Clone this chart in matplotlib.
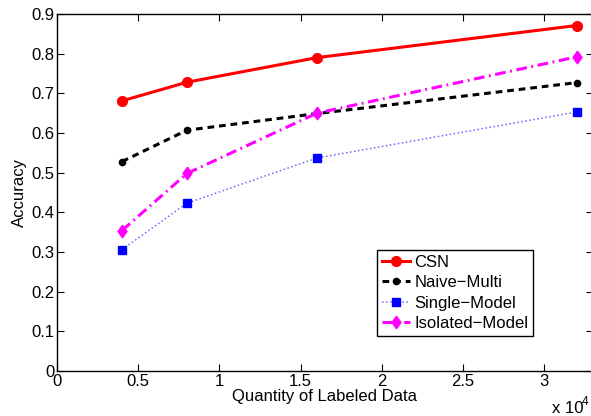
import matplotlib
matplotlib.use("Agg")
import matplotlib.pyplot as plt
from matplotlib.ticker import FuncFormatter

plt.rcParams['font.family'] = ['Liberation Sans', 'DejaVu Sans']
FS = 12

# labeled data sizes and accuracy per method
labeled = [4000, 8000, 16000, 32000]
csn = [0.681, 0.728, 0.790, 0.871]
naive_multi = [0.528, 0.607, 0.649, 0.727]
single_model = [0.306, 0.423, 0.537, 0.653]
isolated_model = [0.354, 0.498, 0.650, 0.792]

x_ticks = [0, 5000, 10000, 15000, 20000, 25000, 30000]
y_ticks = [0, 0.1, 0.2, 0.3, 0.4, 0.5, 0.6, 0.7, 0.8, 0.9]

# diamond a bit narrower than it is tall
diamond = [(0, 1), (0.72, 0), (0, -1), (-0.72, 0), (0, 1)]

fig = plt.figure(figsize=(5.91, 4.16), dpi=100)
ax = fig.add_axes([57 / 591, 45 / 416, 536 / 591, 357 / 416])

ax.plot(labeled, csn, color='red', linestyle='-', linewidth=2.2,
        marker='o', markersize=7, label='CSN')
ax.plot(labeled, naive_multi, color='black', linestyle='--', linewidth=2.2,
        dashes=(2.2, 1.6), marker='.', markersize=9, label='Naive\u2212Multi')
ax.plot(labeled, single_model, color='#6a6aff', linestyle=':', linewidth=1.1,
        marker='s', markersize=6, markerfacecolor='blue', markeredgecolor='blue',
        label='Single\u2212Model')
ax.plot(labeled, isolated_model, color='magenta', linestyle='-.', linewidth=2.2,
        dashes=(3.5, 1.5, 0.6, 1.5), marker=diamond, markersize=9,
        label='Isolated\u2212Model')

ax.set_xlim(0, 33000)
ax.set_ylim(0, 0.9)
ax.set_xticks(x_ticks)
ax.set_yticks(y_ticks)
ax.xaxis.set_major_formatter(FuncFormatter(lambda v, p: '%g' % (v / 1e4)))
ax.yaxis.set_major_formatter(FuncFormatter(lambda v, p: '%g' % v))
ax.tick_params(direction='in', length=5, width=0.8, top=True, right=True,
               labelsize=FS, pad=2)
for s in ax.spines.values():
    s.set_linewidth(1.0)

ax.set_xlabel('Quantity of Labeled Data', fontsize=FS, labelpad=0)
ax.set_ylabel('Accuracy', fontsize=FS, labelpad=3)

# axis multiplier in the lower right corner
fig.text(552 / 591, 1 - 413 / 416, 'x 10', fontsize=FS, ha='left', va='baseline')
fig.text(582 / 591, 1 - 405 / 416, '4', fontsize=8.5, ha='left', va='baseline')

leg = ax.legend(loc='lower left', bbox_to_anchor=(0.597, 0.098), fontsize=FS,
                frameon=True, fancybox=False, framealpha=1, edgecolor='black',
                handlelength=1.7, handletextpad=0.25, borderpad=0.3,
                labelspacing=0.33, borderaxespad=0)
leg.get_frame().set_linewidth(1.0)

fig.savefig('out.png', dpi=100)
